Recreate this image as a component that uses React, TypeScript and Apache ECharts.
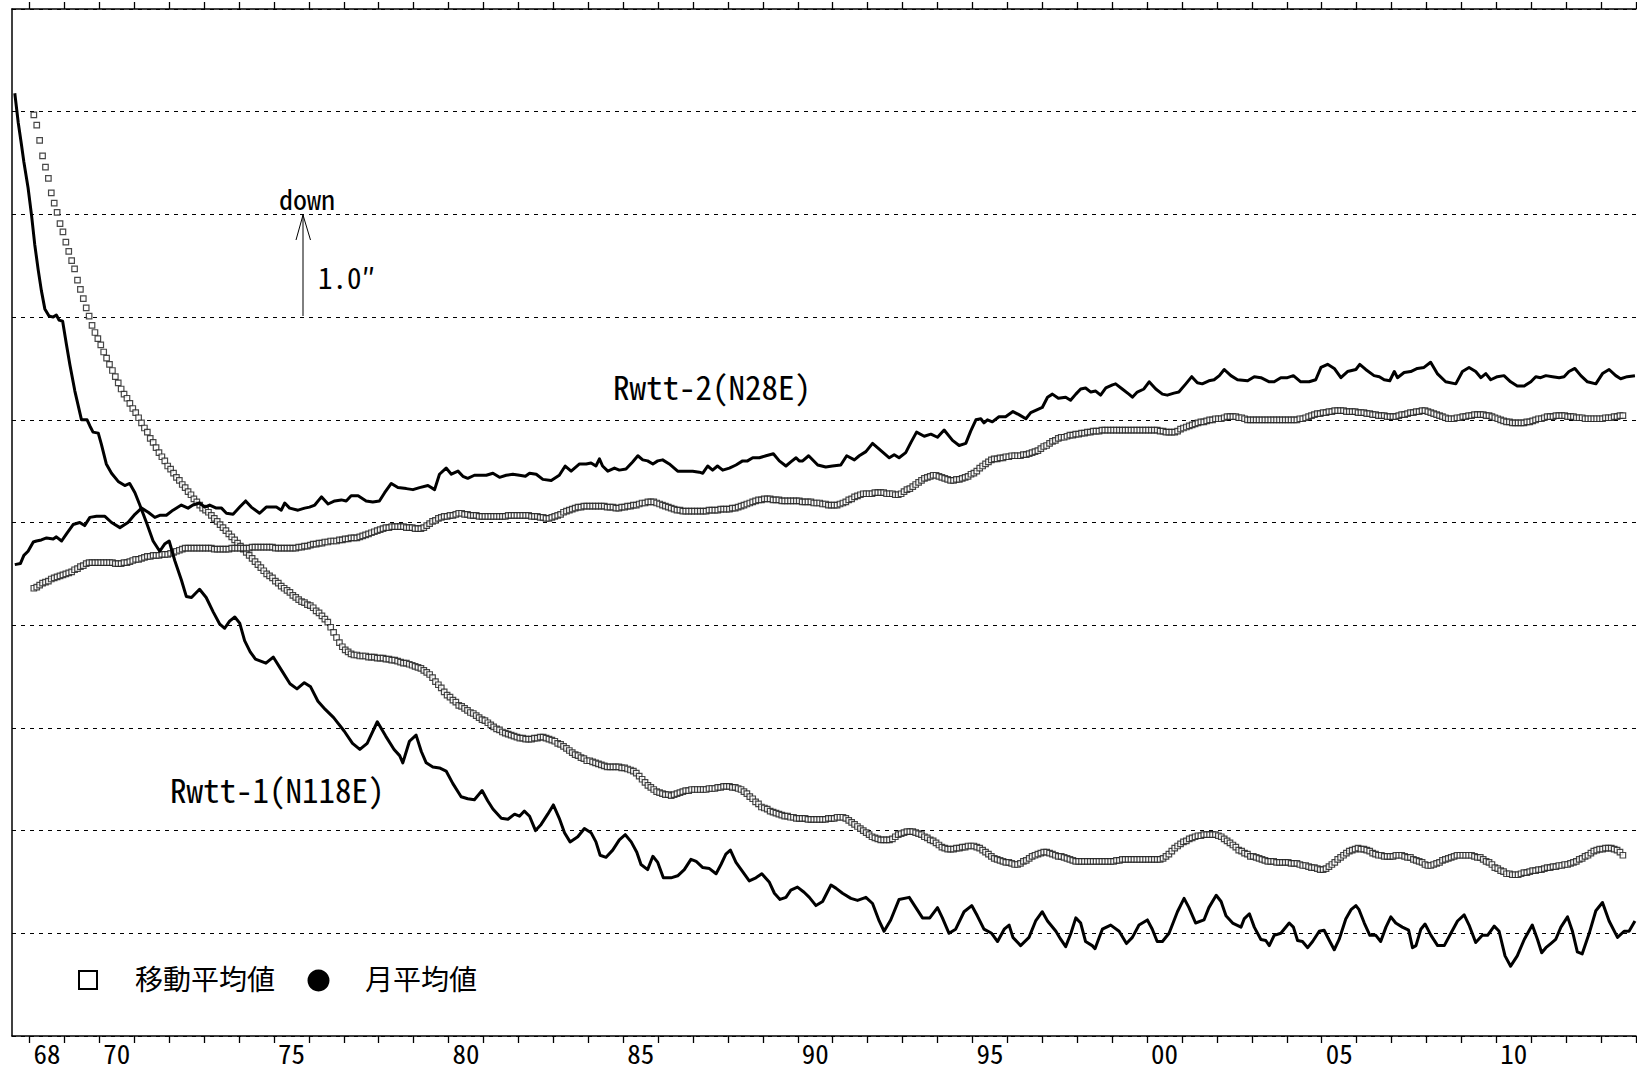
import React, { useEffect, useRef } from "react";
import * as echarts from "echarts";

// ---- x-axis (years) ----
const xMin = 1967.5;
const xMax = 2014.0;
const yearTicks = [1968,1969,1970,1971,1972,1973,1974,1975,1976,1977,1978,1979,1980,1981,1982,1983,1984,1985,1986,1987,1988,1989,1990,1991,1992,1993,1994,1995,1996,1997,1998,1999,2000,2001,2002,2003,2004,2005,2006,2007,2008,2009,2010,2011,2012,2013,2014];
const labelYears = [1968, 1970, 1975, 1980, 1985, 1990, 1995, 2000, 2005, 2010];

// ---- monthly means (月平均値): [year, displacement in arc-seconds] ----
const rwtt1Monthly = [
[1967.58,9.18],[1967.68,8.89],[1967.77,8.68],[1967.84,8.51],[1967.96,8.26],[1968.06,7.99],[1968.15,7.71],[1968.25,7.46],[1968.34,7.26],[1968.44,7.08],[1968.56,7.01],[1968.68,7.00],[1968.77,7.02],[1968.85,6.97],[1968.95,6.96],[1969.06,6.73],[1969.16,6.53],[1969.30,6.28],[1969.49,6.00],[1969.65,6.00],[1969.73,5.94],[1969.82,5.88],[1969.97,5.87],[1970.06,5.76],[1970.20,5.57],[1970.35,5.48],[1970.54,5.40],[1970.73,5.36],[1970.87,5.38],[1971.02,5.29],[1971.16,5.17],[1971.35,5.00],[1971.54,4.82],[1971.73,4.72],[1971.87,4.79],[1972.00,4.82],[1972.16,4.63],[1972.35,4.44],[1972.49,4.28],[1972.64,4.27],[1972.87,4.35],[1973.06,4.27],[1973.26,4.13],[1973.45,4.01],[1973.59,3.97],[1973.73,4.04],[1973.88,4.08],[1974.02,4.02],[1974.16,3.85],[1974.32,3.74],[1974.47,3.67],[1974.77,3.63],[1974.98,3.69],[1975.22,3.56],[1975.46,3.43],[1975.66,3.38],[1975.87,3.44],[1976.05,3.40],[1976.26,3.26],[1976.47,3.18],[1976.71,3.10],[1977.01,2.97],[1977.25,2.85],[1977.46,2.79],[1977.67,2.85],[1977.96,3.06],[1978.20,2.92],[1978.44,2.79],[1978.60,2.73],[1978.69,2.66],[1978.88,2.87],[1979.07,2.93],[1979.22,2.77],[1979.36,2.66],[1979.55,2.62],[1979.74,2.61],[1979.93,2.58],[1980.12,2.46],[1980.36,2.33],[1980.55,2.31],[1980.74,2.30],[1980.96,2.39],[1981.12,2.29],[1981.27,2.21],[1981.51,2.12],[1981.70,2.11],[1981.89,2.16],[1982.03,2.14],[1982.17,2.19],[1982.32,2.14],[1982.49,2.00],[1982.65,2.06],[1982.84,2.16],[1983.00,2.25],[1983.17,2.12],[1983.32,1.98],[1983.48,1.89],[1983.70,1.94],[1983.89,2.02],[1984.08,1.98],[1984.22,1.89],[1984.34,1.76],[1984.51,1.74],[1984.70,1.81],[1984.89,1.91],[1985.06,1.96],[1985.23,1.89],[1985.39,1.79],[1985.51,1.67],[1985.70,1.62],[1985.85,1.75],[1985.99,1.69],[1986.15,1.54],[1986.37,1.54],[1986.56,1.56],[1986.75,1.62],[1986.94,1.72],[1987.09,1.70],[1987.28,1.64],[1987.47,1.63],[1987.66,1.58],[1987.80,1.67],[1987.94,1.77],[1988.07,1.81],[1988.23,1.69],[1988.42,1.60],[1988.61,1.51],[1988.80,1.54],[1988.97,1.58],[1989.18,1.50],[1989.33,1.39],[1989.49,1.33],[1989.66,1.35],[1989.80,1.42],[1989.99,1.45],[1990.18,1.40],[1990.33,1.35],[1990.52,1.27],[1990.71,1.31],[1990.95,1.47],[1991.09,1.44],[1991.28,1.39],[1991.52,1.34],[1991.71,1.32],[1991.95,1.35],[1992.14,1.29],[1992.33,1.12],[1992.47,1.02],[1992.66,1.13],[1992.90,1.33],[1993.19,1.35],[1993.38,1.25],[1993.57,1.15],[1993.78,1.15],[1994.00,1.25],[1994.14,1.15],[1994.33,1.00],[1994.52,1.04],[1994.76,1.21],[1994.98,1.27],[1995.14,1.17],[1995.33,1.04],[1995.55,1.00],[1995.72,0.92],[1995.91,1.04],[1996.05,1.08],[1996.16,0.96],[1996.38,0.88],[1996.62,0.96],[1996.81,1.12],[1997.00,1.21],[1997.15,1.12],[1997.39,1.02],[1997.53,0.94],[1997.67,0.87],[1997.82,1.00],[1997.96,1.15],[1998.10,1.10],[1998.24,0.92],[1998.43,0.88],[1998.51,0.85],[1998.63,0.96],[1998.72,1.04],[1998.96,1.08],[1999.20,1.02],[1999.41,0.90],[1999.58,0.96],[1999.77,1.08],[2000.01,1.13],[2000.15,1.04],[2000.29,0.92],[2000.44,0.92],[2000.63,1.00],[2000.87,1.21],[2001.06,1.34],[2001.20,1.25],[2001.39,1.10],[2001.63,1.13],[2001.77,1.25],[2001.98,1.37],[2002.12,1.31],[2002.26,1.17],[2002.45,1.10],[2002.69,1.06],[2002.78,1.14],[2002.93,1.19],[2003.07,1.06],[2003.26,0.94],[2003.40,0.93],[2003.50,0.88],[2003.64,0.98],[2003.83,1.00],[2004.07,1.10],[2004.19,1.06],[2004.31,0.93],[2004.45,0.92],[2004.60,0.86],[2004.74,0.92],[2004.93,1.02],[2005.07,1.03],[2005.22,0.93],[2005.36,0.84],[2005.50,0.94],[2005.69,1.14],[2005.84,1.23],[2005.98,1.27],[2006.07,1.23],[2006.22,1.10],[2006.38,0.98],[2006.55,0.98],[2006.69,0.92],[2006.84,1.06],[2006.98,1.16],[2007.12,1.10],[2007.31,1.06],[2007.49,1.03],[2007.60,0.86],[2007.70,0.88],[2007.84,1.04],[2007.96,1.09],[2008.13,0.98],[2008.32,0.88],[2008.51,0.88],[2008.70,1.00],[2008.89,1.12],[2009.08,1.18],[2009.22,1.08],[2009.41,0.91],[2009.60,0.98],[2009.75,0.98],[2009.94,1.07],[2010.08,1.02],[2010.25,0.78],[2010.41,0.68],[2010.60,0.78],[2010.80,0.94],[2011.03,1.08],[2011.18,0.94],[2011.30,0.81],[2011.42,0.86],[2011.56,0.90],[2011.70,0.94],[2011.85,1.06],[2012.04,1.16],[2012.18,1.02],[2012.32,0.82],[2012.46,0.80],[2012.66,1.00],[2012.85,1.22],[2013.04,1.30],[2013.23,1.12],[2013.47,0.96],[2013.66,1.02],[2013.80,1.02],[2013.97,1.12]
];

const rwtt2Monthly = [
[1967.58,4.59],[1967.74,4.60],[1967.84,4.68],[1967.96,4.72],[1968.11,4.81],[1968.20,4.82],[1968.34,4.83],[1968.49,4.85],[1968.68,4.84],[1968.77,4.86],[1968.92,4.82],[1969.06,4.89],[1969.25,4.98],[1969.44,5.00],[1969.58,4.97],[1969.73,5.05],[1969.92,5.06],[1970.16,5.06],[1970.35,5.00],[1970.59,4.95],[1970.82,5.00],[1971.02,5.08],[1971.21,5.14],[1971.40,5.10],[1971.59,5.05],[1971.73,5.07],[1971.92,5.07],[1972.11,5.12],[1972.35,5.17],[1972.54,5.14],[1972.68,5.17],[1972.87,5.19],[1973.02,5.15],[1973.16,5.17],[1973.35,5.14],[1973.50,5.14],[1973.64,5.09],[1973.83,5.08],[1974.02,5.15],[1974.19,5.21],[1974.35,5.15],[1974.59,5.09],[1974.78,5.15],[1975.07,5.15],[1975.21,5.12],[1975.31,5.19],[1975.45,5.14],[1975.69,5.12],[1975.88,5.14],[1976.02,5.15],[1976.17,5.17],[1976.36,5.25],[1976.55,5.18],[1976.74,5.21],[1976.93,5.22],[1977.07,5.21],[1977.21,5.26],[1977.41,5.26],[1977.64,5.21],[1977.83,5.20],[1978.02,5.21],[1978.17,5.29],[1978.36,5.38],[1978.55,5.34],[1978.79,5.33],[1978.98,5.32],[1979.17,5.34],[1979.41,5.36],[1979.60,5.32],[1979.74,5.47],[1979.93,5.53],[1980.08,5.47],[1980.27,5.50],[1980.41,5.45],[1980.55,5.43],[1980.74,5.46],[1981.08,5.46],[1981.27,5.48],[1981.46,5.44],[1981.65,5.46],[1981.84,5.47],[1982.03,5.46],[1982.20,5.45],[1982.32,5.48],[1982.51,5.47],[1982.70,5.42],[1982.94,5.41],[1983.17,5.46],[1983.34,5.55],[1983.51,5.50],[1983.75,5.57],[1983.94,5.57],[1984.08,5.58],[1984.22,5.55],[1984.32,5.62],[1984.41,5.55],[1984.56,5.50],[1984.75,5.53],[1984.89,5.51],[1985.08,5.52],[1985.27,5.59],[1985.42,5.65],[1985.56,5.61],[1985.70,5.60],[1985.85,5.57],[1985.99,5.60],[1986.13,5.61],[1986.32,5.57],[1986.56,5.50],[1986.80,5.50],[1986.99,5.50],[1987.18,5.49],[1987.28,5.48],[1987.42,5.55],[1987.56,5.51],[1987.70,5.55],[1987.85,5.51],[1988.04,5.53],[1988.23,5.56],[1988.42,5.60],[1988.56,5.60],[1988.71,5.63],[1988.90,5.63],[1989.09,5.65],[1989.30,5.67],[1989.47,5.60],[1989.66,5.55],[1989.80,5.59],[1989.95,5.63],[1990.04,5.60],[1990.14,5.60],[1990.31,5.65],[1990.57,5.56],[1990.80,5.54],[1990.99,5.55],[1991.23,5.56],[1991.40,5.65],[1991.62,5.61],[1991.76,5.65],[1991.95,5.69],[1992.14,5.77],[1992.38,5.70],[1992.62,5.63],[1992.76,5.66],[1992.90,5.63],[1993.09,5.68],[1993.24,5.78],[1993.40,5.88],[1993.62,5.84],[1993.81,5.86],[1994.00,5.83],[1994.19,5.90],[1994.43,5.80],[1994.62,5.75],[1994.81,5.77],[1994.95,5.89],[1995.10,6.00],[1995.24,6.01],[1995.33,5.97],[1995.43,6.00],[1995.57,5.98],[1995.76,6.03],[1995.95,6.03],[1996.16,6.08],[1996.33,6.05],[1996.53,6.01],[1996.67,6.07],[1996.86,6.10],[1997.00,6.12],[1997.15,6.22],[1997.29,6.25],[1997.46,6.21],[1997.67,6.22],[1997.81,6.19],[1997.96,6.25],[1998.10,6.30],[1998.24,6.31],[1998.39,6.27],[1998.53,6.28],[1998.67,6.24],[1998.82,6.31],[1999.01,6.34],[1999.10,6.35],[1999.29,6.30],[1999.48,6.25],[1999.58,6.22],[1999.72,6.27],[1999.91,6.30],[2000.06,6.37],[2000.25,6.30],[2000.44,6.25],[2000.58,6.24],[2000.77,6.26],[2000.91,6.27],[2001.11,6.35],[2001.28,6.42],[2001.44,6.36],[2001.58,6.35],[2001.77,6.38],[2001.92,6.39],[2002.07,6.43],[2002.21,6.49],[2002.40,6.43],[2002.59,6.39],[2002.88,6.38],[2003.07,6.42],[2003.26,6.41],[2003.50,6.37],[2003.64,6.37],[2003.83,6.41],[2004.02,6.41],[2004.19,6.43],[2004.40,6.37],[2004.64,6.37],[2004.83,6.39],[2004.98,6.51],[2005.17,6.54],[2005.36,6.50],[2005.55,6.41],[2005.74,6.47],[2005.98,6.49],[2006.09,6.54],[2006.26,6.49],[2006.50,6.43],[2006.65,6.42],[2006.79,6.39],[2006.95,6.38],[2007.08,6.47],[2007.17,6.41],[2007.36,6.46],[2007.55,6.47],[2007.74,6.50],[2007.93,6.51],[2008.12,6.56],[2008.31,6.45],[2008.55,6.37],[2008.84,6.35],[2009.03,6.47],[2009.22,6.51],[2009.41,6.47],[2009.56,6.41],[2009.70,6.45],[2009.84,6.39],[2010.03,6.42],[2010.22,6.43],[2010.41,6.37],[2010.60,6.33],[2010.80,6.33],[2010.99,6.37],[2011.13,6.42],[2011.27,6.41],[2011.42,6.43],[2011.61,6.42],[2011.80,6.41],[2011.94,6.42],[2012.08,6.47],[2012.25,6.50],[2012.42,6.43],[2012.61,6.37],[2012.85,6.35],[2013.04,6.45],[2013.23,6.49],[2013.42,6.43],[2013.56,6.40],[2013.75,6.42],[2013.97,6.43]
];

// ---- 12-month moving averages (移動平均値): one value per month, Feb 1968 .. Aug 2013 ----
const maStartYear = 1968;
const maStartMonth = 2;
const rwtt1MovingAvg = [
8.97,8.87,8.72,8.57,8.46,8.35,8.21,8.11,8.02,7.91,7.83,
7.73,7.64,7.55,7.47,7.36,7.27,7.18,7.09,7.01,6.92,6.85,6.79,
6.73,6.66,6.60,6.54,6.48,6.42,6.36,6.30,6.25,6.21,6.16,6.11,
6.07,6.02,5.97,5.92,5.88,5.82,5.78,5.73,5.68,5.64,5.60,5.55,
5.52,5.48,5.44,5.41,5.37,5.34,5.30,5.27,5.23,5.20,5.17,5.14,
5.12,5.10,5.07,5.04,5.01,4.98,4.95,4.92,4.89,4.86,4.83,4.80,
4.77,4.74,4.71,4.68,4.65,4.62,4.59,4.56,4.53,4.50,4.48,4.46,
4.43,4.41,4.38,4.36,4.34,4.32,4.29,4.27,4.25,4.23,4.22,4.20,
4.19,4.17,4.14,4.12,4.09,4.06,4.03,3.98,3.93,3.88,3.83,3.79,
3.76,3.74,3.72,3.71,3.71,3.70,3.70,3.70,3.69,3.69,3.69,3.68,
3.68,3.68,3.67,3.67,3.66,3.66,3.65,3.64,3.63,3.63,3.62,3.61,
3.60,3.59,3.58,3.56,3.54,3.52,3.49,3.45,3.42,3.39,3.35,3.32,
3.30,3.27,3.25,3.22,3.21,3.19,3.17,3.15,3.14,3.12,3.10,3.08,
3.07,3.05,3.03,3.01,2.99,2.98,2.96,2.95,2.94,2.93,2.92,2.91,
2.90,2.90,2.89,2.89,2.89,2.90,2.90,2.91,2.91,2.90,2.89,2.88,
2.87,2.85,2.84,2.82,2.80,2.78,2.76,2.74,2.73,2.71,2.70,2.68,
2.68,2.67,2.66,2.65,2.64,2.63,2.62,2.62,2.62,2.62,2.62,2.61,
2.61,2.60,2.59,2.58,2.56,2.53,2.50,2.47,2.44,2.42,2.40,2.38,
2.37,2.36,2.35,2.35,2.34,2.35,2.36,2.37,2.38,2.39,2.39,2.40,
2.40,2.40,2.40,2.40,2.40,2.41,2.41,2.41,2.42,2.42,2.43,2.43,
2.43,2.42,2.42,2.41,2.40,2.38,2.36,2.33,2.31,2.28,2.26,2.23,
2.22,2.21,2.19,2.18,2.17,2.16,2.15,2.14,2.14,2.13,2.13,2.12,
2.12,2.12,2.12,2.11,2.11,2.11,2.11,2.11,2.11,2.11,2.12,2.12,
2.12,2.13,2.13,2.13,2.12,2.10,2.08,2.06,2.04,2.02,2.00,1.98,
1.96,1.94,1.93,1.92,1.91,1.91,1.91,1.91,1.92,1.94,1.96,1.97,
1.98,1.99,1.99,1.99,1.98,1.97,1.96,1.94,1.93,1.91,1.90,1.88,
1.86,1.84,1.83,1.82,1.82,1.82,1.83,1.83,1.84,1.84,1.85,1.85,
1.85,1.84,1.83,1.81,1.79,1.77,1.75,1.73,1.72,1.71,1.70,1.69,
1.69,1.68,1.67,1.67,1.68,1.70,1.71,1.73,1.75,1.76,1.77,1.78,
1.79,1.79,1.78,1.77,1.76,1.75,1.75,1.74,1.73,1.72,1.71,1.70,
1.70,1.70,1.70,1.70,1.70,1.70,1.70,1.70,1.70,1.70,1.70,1.70,
1.70,1.71,1.71,1.72,1.72,1.72,1.72,1.72,1.72,1.72,1.72,1.72,
1.72,1.72,1.72,1.72,1.72,1.73,1.75,1.77,1.80,1.83,1.85,1.87,
1.89,1.90,1.92,1.93,1.94,1.95,1.95,1.96,1.96,1.96,1.96,1.96,
1.95,1.94,1.92,1.90,1.88,1.86,1.84,1.81,1.80,1.78,1.77,1.75,
1.75,1.74,1.73,1.72,1.71,1.70,1.70,1.70,1.69,1.69,1.69,1.69,
1.69,1.68,1.68,1.68,1.67,1.66,1.66,1.65,1.64,1.64,1.63,1.62,
1.62,1.63,1.65,1.67,1.69,1.72,1.74,1.76,1.78,1.80,1.81,1.82,
1.83,1.82,1.82,1.81,1.80,1.78,1.77,1.76,1.76,1.75,1.75,1.75,
1.75,1.76,1.76,1.76,1.75,1.74,1.74,1.72,1.71,1.70,1.69,1.67,
1.66,1.66,1.67,1.68,1.69,1.71,1.72,1.73,1.74,1.75,1.76,1.76,
1.76,1.76,1.76,1.76,1.75,1.74,1.74,1.72,1.70,1.69,1.67,1.64,
1.63,1.61,1.60,1.58,1.58,1.57,1.57,1.57,1.58,1.59,1.59,1.60,
1.61,1.61,1.62,1.62,1.63,1.64,1.64,1.65,1.65,1.66,1.66,1.67,
1.67,1.68,1.69,1.70,1.72,1.73,1.75,1.76,1.78,1.80,1.81,1.82,
1.82,1.83,1.83,1.83,1.82,1.81,1.79,1.76
];
const rwtt2MovingAvg = [
4.36,4.37,4.39,4.41,4.42,4.43,4.45,4.46,4.47,4.48,4.49,
4.50,4.51,4.52,4.54,4.55,4.57,4.58,4.60,4.61,4.61,4.61,4.61,
4.61,4.61,4.61,4.61,4.61,4.60,4.60,4.60,4.61,4.61,4.62,4.63,
4.64,4.64,4.65,4.66,4.67,4.67,4.68,4.68,4.68,4.69,4.69,4.69,
4.70,4.71,4.72,4.73,4.74,4.75,4.75,4.75,4.75,4.75,4.75,4.75,
4.75,4.75,4.75,4.74,4.74,4.74,4.74,4.74,4.74,4.75,4.75,4.75,
4.75,4.75,4.75,4.75,4.76,4.76,4.76,4.76,4.76,4.76,4.76,4.76,
4.75,4.75,4.75,4.75,4.75,4.75,4.75,4.75,4.76,4.76,4.77,4.77,
4.78,4.79,4.79,4.80,4.80,4.81,4.81,4.82,4.82,4.82,4.83,4.83,
4.84,4.84,4.85,4.85,4.85,4.86,4.87,4.88,4.89,4.90,4.91,4.92,
4.93,4.94,4.95,4.95,4.96,4.96,4.96,4.96,4.96,4.95,4.95,4.95,
4.94,4.94,4.94,4.95,4.97,4.99,5.01,5.02,5.04,5.05,5.06,5.06,
5.07,5.07,5.08,5.09,5.09,5.08,5.08,5.07,5.07,5.07,5.06,5.06,
5.06,5.06,5.06,5.06,5.06,5.06,5.06,5.06,5.07,5.07,5.07,5.07,
5.07,5.07,5.07,5.07,5.06,5.06,5.06,5.05,5.05,5.04,5.04,5.05,
5.06,5.07,5.08,5.10,5.11,5.12,5.13,5.14,5.15,5.15,5.16,5.16,
5.16,5.16,5.16,5.16,5.16,5.16,5.15,5.15,5.15,5.14,5.14,5.15,
5.15,5.16,5.16,5.17,5.17,5.18,5.19,5.19,5.20,5.20,5.20,5.19,
5.18,5.17,5.16,5.15,5.14,5.13,5.12,5.12,5.11,5.11,5.11,5.11,
5.11,5.11,5.11,5.11,5.11,5.12,5.12,5.12,5.12,5.13,5.13,5.13,
5.13,5.14,5.14,5.15,5.16,5.17,5.18,5.19,5.20,5.21,5.22,5.22,
5.23,5.23,5.23,5.22,5.22,5.22,5.21,5.21,5.21,5.21,5.21,5.21,
5.21,5.20,5.20,5.20,5.20,5.19,5.19,5.19,5.18,5.18,5.17,5.17,
5.17,5.17,5.18,5.19,5.20,5.22,5.23,5.25,5.26,5.27,5.28,5.28,
5.28,5.28,5.29,5.29,5.29,5.29,5.28,5.28,5.28,5.27,5.27,5.28,
5.30,5.32,5.33,5.35,5.37,5.39,5.41,5.43,5.44,5.45,5.46,5.46,
5.45,5.44,5.43,5.42,5.41,5.41,5.42,5.42,5.43,5.44,5.45,5.47,
5.48,5.50,5.53,5.55,5.57,5.59,5.61,5.62,5.62,5.63,5.63,5.64,
5.64,5.65,5.65,5.65,5.65,5.66,5.66,5.67,5.68,5.69,5.70,5.72,
5.74,5.75,5.77,5.79,5.80,5.82,5.83,5.83,5.84,5.85,5.85,5.86,
5.86,5.87,5.87,5.88,5.88,5.89,5.89,5.89,5.90,5.90,5.90,5.90,
5.90,5.90,5.90,5.90,5.90,5.90,5.90,5.90,5.90,5.90,5.90,5.90,
5.90,5.90,5.90,5.90,5.89,5.89,5.88,5.88,5.88,5.88,5.89,5.91,
5.92,5.93,5.94,5.95,5.96,5.97,5.98,5.98,5.99,6.00,6.00,6.01,
6.01,6.01,6.02,6.03,6.03,6.03,6.03,6.02,6.02,6.01,6.00,6.00,
6.00,6.00,6.00,6.00,6.00,6.00,6.00,6.00,6.00,6.00,6.00,6.00,
6.00,6.00,6.00,6.00,6.01,6.01,6.02,6.03,6.04,6.05,6.06,6.06,
6.07,6.07,6.08,6.08,6.09,6.09,6.09,6.09,6.08,6.08,6.08,6.08,
6.07,6.07,6.07,6.06,6.06,6.05,6.05,6.04,6.04,6.04,6.03,6.03,
6.03,6.03,6.04,6.05,6.05,6.06,6.07,6.07,6.08,6.08,6.09,6.09,
6.08,6.07,6.06,6.05,6.04,6.03,6.02,6.01,6.01,6.01,6.02,6.02,
6.03,6.03,6.04,6.04,6.05,6.05,6.05,6.05,6.04,6.04,6.03,6.02,
6.01,6.00,5.99,5.98,5.98,5.97,5.97,5.97,5.97,5.97,5.98,5.98,
5.99,6.00,6.01,6.01,6.02,6.03,6.03,6.03,6.04,6.04,6.04,6.04,
6.03,6.03,6.03,6.02,6.02,6.02,6.01,6.01,6.01,6.01,6.01,6.01,
6.01,6.02,6.02,6.02,6.03,6.03,6.04,6.04
];

// ---- annotation texts ----
const seriesLabel1 = "Rwtt-1(N118E)";
const seriesLabel2 = "Rwtt-2(N28E)";
const legendMA = "移動平均値";
const legendMonthly = "月平均値";

const FONT = "'Noto Sans Mono CJK JP', 'Noto Sans CJK JP', sans-serif";

function monthlyPairs(values: number[]) {
  return values.map((v, i) => {
    const m = maStartMonth - 1 + i;
    return [maStartYear + (m + 0.5) / 12, v];
  });
}

export default function App() {
  const ref = useRef<HTMLDivElement>(null);
  useEffect(() => {
    if (!ref.current) return;
    const chart = echarts.init(ref.current, undefined, { renderer: "svg" });
    const maStyle = {
      type: "scatter" as const,
      symbol: "rect",
      symbolSize: 5.5,
      itemStyle: { color: "#ffffff", borderColor: "#1a1a1a", borderWidth: 1.2 },
      silent: true,
      z: 2,
    };
    const lineStyle = {
      type: "line" as const,
      showSymbol: false,
      symbol: "none",
      lineStyle: { color: "#000", width: 3, join: "round" },
      silent: true,
      z: 3,
    };
    chart.setOption({
      animation: false,
      backgroundColor: "#ffffff",
      grid: { left: 12, top: 9, width: 1624, height: 1027, containLabel: false },
      xAxis: [
        {
          type: "value",
          position: "bottom",
          min: xMin,
          max: xMax,
          axisLine: { show: true, onZero: false, lineStyle: { color: "#000", width: 1.5 } },
          axisTick: { show: true, inside: false, length: 7, customValues: yearTicks, lineStyle: { color: "#000", width: 1.3 } },
          axisLabel: {
            show: true,
            customValues: labelYears.map((y) => y + 0.5),
            formatter: (v: number) => String(Math.floor(v) % 100).padStart(2, "0"),
            color: "#000",
            fontFamily: FONT,
            fontSize: 27,
            margin: 3,
          },
          splitLine: { show: false },
        },
        {
          type: "value",
          position: "top",
          min: xMin,
          max: xMax,
          axisLine: { show: true, onZero: false, lineStyle: { color: "#000", width: 1.5 } },
          axisTick: { show: true, inside: false, length: 7, customValues: yearTicks, lineStyle: { color: "#000", width: 1.3 } },
          axisLabel: { show: false },
          splitLine: { show: false },
        },
      ],
      yAxis: {
        type: "value",
        min: 0,
        max: 10,
        interval: 1,
        axisLine: { show: true, lineStyle: { color: "#000", width: 1.5 } },
        axisTick: { show: false },
        axisLabel: { show: false },
        splitLine: { show: true, lineStyle: { color: "#000", width: 1, type: [4, 5] } },
      },
      series: [
        { ...maStyle, name: legendMA + "1", data: monthlyPairs(rwtt1MovingAvg) },
        { ...maStyle, name: legendMA + "2", data: monthlyPairs(rwtt2MovingAvg) },
        { ...lineStyle, name: legendMonthly + "1", data: rwtt1Monthly },
        { ...lineStyle, name: legendMonthly + "2", data: rwtt2Monthly },
      ],
      graphic: [
        { type: "text", left: 279, top: 184, style: { text: "down", font: `28px ${FONT}`, fill: "#000" } },
        { type: "line", shape: { x1: 303, y1: 316, x2: 303, y2: 215 }, style: { stroke: "#000", lineWidth: 1 } },
        { type: "polyline", shape: { points: [[296, 240], [303, 215], [310.5, 240]] }, style: { stroke: "#000", lineWidth: 1, fill: "none" } },
        { type: "text", left: 318, top: 261, style: { text: "1.0″", font: `29px ${FONT}`, fill: "#000" } },
        { type: "text", left: 613, top: 369, style: { text: seriesLabel2, font: `33px ${FONT}`, fill: "#000" } },
        { type: "text", left: 170, top: 772, style: { text: seriesLabel1, font: `33px ${FONT}`, fill: "#000" } },
        { type: "rect", shape: { x: 79, y: 971, width: 18, height: 18 }, style: { stroke: "#000", lineWidth: 2, fill: "#fff" } },
        { type: "text", left: 135, top: 964, style: { text: legendMA, font: `28px ${FONT}`, fill: "#000" } },
        { type: "circle", shape: { cx: 318.5, cy: 980.5, r: 11 }, style: { fill: "#000" } },
        { type: "text", left: 365, top: 964, style: { text: legendMonthly, font: `28px ${FONT}`, fill: "#000" } },
      ],
    });
    return () => chart.dispose();
  }, []);
  return (
    <div
      ref={ref}
      style={{ position: "fixed", left: 0, top: 0, width: 1637, height: 1072, background: "#fff" }}
    />
  );
}
